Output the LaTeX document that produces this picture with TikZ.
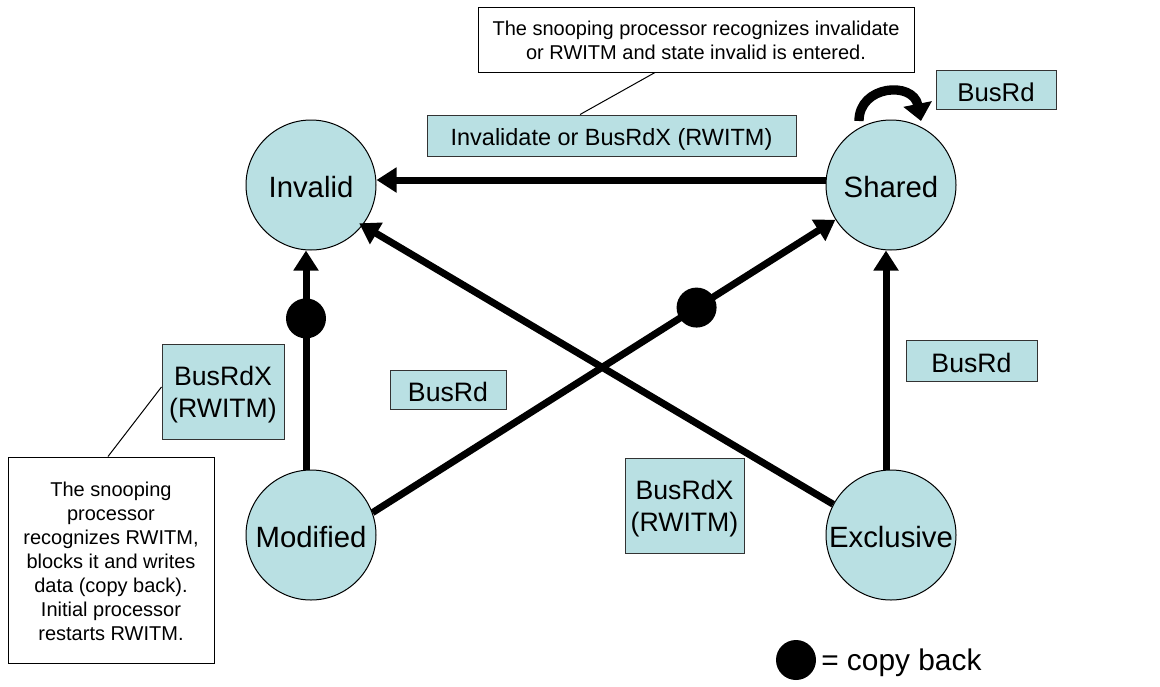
\documentclass[tikz,border=0pt]{standalone}
\usepackage{fontspec}
\setmainfont{Liberation Sans}
\usetikzlibrary{arrows.meta}
\definecolor{stfill}{RGB}{185,224,227}
\begin{document}
\begin{tikzpicture}[x=0.75pt,y=-0.75pt,
  state/.style={circle,draw=black,line width=0.75pt,fill=stfill,minimum size=97.5pt,inner sep=0pt,text height=19pt,text depth=0pt,font=\fontsize{22}{26}\selectfont},
  lbl/.style={rectangle,draw=black!80,line width=0.75pt,fill=stfill,inner sep=0pt,align=center,font=\fontsize{20}{23.5}\selectfont},
  one/.style={text height=18pt,text depth=0pt},
  note/.style={rectangle,draw=black,line width=0.75pt,fill=white,inner sep=0pt,align=center,font=\fontsize{15}{18}\selectfont},
  trans/.style={line width=5.25pt,-{Triangle[length=15pt,width=18pt]}},
  dot/.style={circle,fill=black,minimum size=30pt,inner sep=0pt},
  thin/.style={line width=0.75pt}]
\useasboundingbox (0,0) rectangle (1160,686);
% states
\node[state] (inv) at (311,185) {Invalid};
\node[state] (sh) at (891,185) {Shared};
\node[state] (mod) at (311,535) {Modified};
\node[state] (exc) at (891,535) {Exclusive};
% labels
\node[note,minimum width=327pt,minimum height=48.75pt] (c1) at (696,39.5) {\rule{0pt}{12.5pt}The snooping processor recognizes invalidate\\or RWITM and state invalid is entered.};
\node[lbl,minimum width=276.75pt,minimum height=30.75pt,text height=15pt,text depth=0pt,font=\fontsize{17.6}{21}\selectfont] (linv) at (611.5,135.5) {Invalidate or BusRdX (RWITM)};
\node[lbl,one,minimum width=90pt,minimum height=29.25pt,font=\fontsize{19.3}{23}\selectfont] (lsh) at (996,89.5) {BusRd};
\node[lbl,minimum width=91.5pt,minimum height=71.25pt] (lmi) at (223,391.5) {\rule{0pt}{19pt}BusRdX\\(RWITM)};
\node[lbl,one,minimum width=87pt,minimum height=29.25pt] (lms) at (448,389.5) {BusRd};
\node[lbl,minimum width=89.25pt,minimum height=71.25pt] (lei) at (684.5,505.5) {\rule{0pt}{19pt}BusRdX\\(RWITM)};
\node[lbl,one,minimum width=98.25pt,minimum height=30.75pt] (les) at (971.5,360.5) {BusRd};
\node[note,minimum width=154.5pt,minimum height=154.5pt] (c2) at (111,560) {\rule{0pt}{13.5pt}The snooping\\processor\\recognizes RWITM,\\blocks it and writes\\data (copy back).\\Initial processor\\restarts RWITM.};
% callout lines
\draw[thin] ([xshift=-30.75pt]c1.south) -- ([xshift=-23.6pt]linv.north);
\draw[thin] ([xshift=-2.25pt]c2.north) -- ([yshift=3.4pt]lmi.west);
% transitions
\draw[trans] ([yshift=3.75pt]sh.west) -- ([yshift=3.75pt]inv.east);
\draw[trans, shorten >=-3pt] (exc.152) -- (inv.322);
\draw[trans] (mod.20) -- node[dot,pos=0.7] (d2) {} (sh.212);
\draw[trans] ([xshift=-3.75pt]mod.north) -- node[dot,pos=0.69] (d1) {} ([xshift=-3.75pt]inv.south);
\draw[trans] ([xshift=-3.75pt]exc.north) -- ([xshift=-3.75pt]sh.south);
% self loop
\coordinate (ls) at (859,121);
\coordinate (le) at (921,121);
\draw[line width=7pt,-{Triangle[length=13pt,width=21pt]}] (ls) .. controls (859,85) and (913,81) .. (le);
% legend
\node[dot] (ld) at (796,660) {};
\node[anchor=west,inner sep=0pt,font=\fontsize{22.4}{26}\selectfont] (lt) at (821,663) {= copy back};
\end{tikzpicture}
\end{document}
